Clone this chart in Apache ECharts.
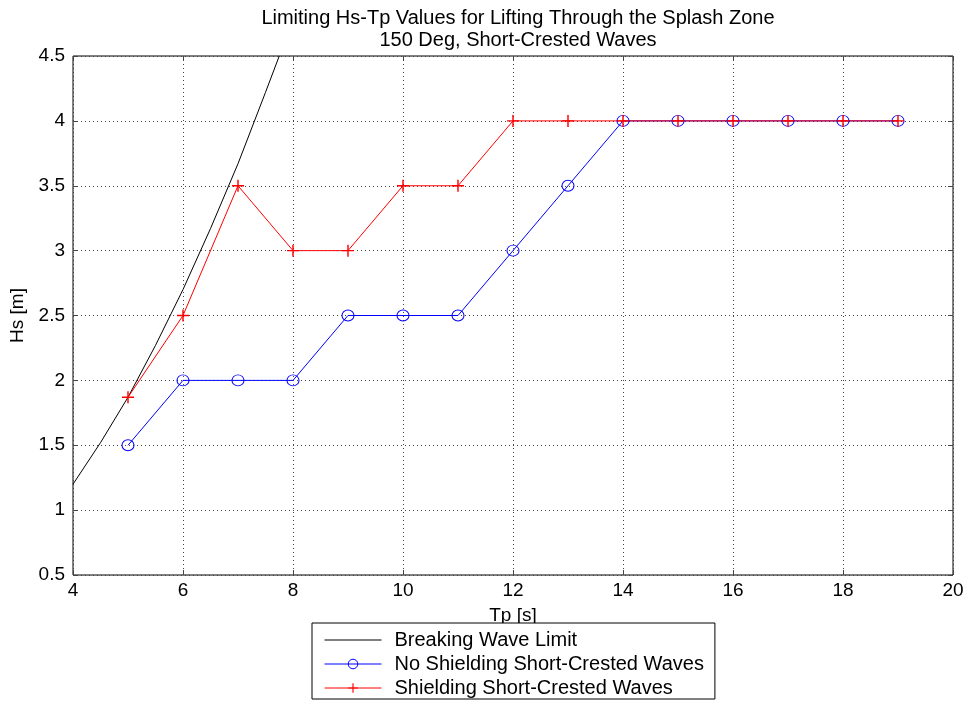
<!DOCTYPE html>
<html><head><meta charset="utf-8">
<script src="https://cdn.jsdelivr.net/npm/echarts@6/dist/echarts.min.js"></script>
<style>html,body{margin:0;padding:0;background:#fff}#c{width:968px;height:704px}</style>
</head><body><div id="c"></div>
<script>
// Breaking wave limit (Tp, Hs)
const breakTp = [4, 4.5, 5, 5.5, 6, 6.5, 7, 7.5, 7.75];
const breakHs = [1.2, 1.52, 1.87, 2.27, 2.7, 3.17, 3.67, 4.22, 4.5];
// Tp values for the two operability series
const tpValues = [5, 6, 7, 8, 9, 10, 11, 12, 13, 14, 15, 16, 17, 18, 19];
const noShieldHs = [1.5, 2, 2, 2, 2.5, 2.5, 2.5, 3, 3.5, 4, 4, 4, 4, 4, 4];
const shieldHs = [1.87, 2.5, 3.5, 3, 3, 3.5, 3.5, 4, 4, 4, 4, 4, 4, 4, 4];
const xTicks = {min: 4, max: 20, interval: 2};
const yTicks = {min: 0.5, max: 4.5, interval: 0.5};
const titleLines = ['Limiting Hs-Tp Values for Lifting Through the Splash Zone', '150 Deg, Short-Crested Waves'];
const seriesNames = ['Breaking Wave Limit', 'No Shielding Short-Crested Waves', 'Shielding Short-Crested Waves'];

const font = 'Liberation Sans, Arial, sans-serif';
const zip = (a, b) => a.map((v, i) => [v, b[i]]);
const plus = 'path://M4.4,0H5.6V4.4H10V5.6H5.6V10H4.4V5.6H0V4.4H4.4Z';

const chart = echarts.init(document.getElementById('c'));
const grid = {left: 73, top: 56, right: 15, bottom: 129, show: true, borderColor: '#000', borderWidth: 1, backgroundColor: 'transparent'};
const tickStyle = {show: true, inside: true, length: 5, lineStyle: {color: '#444'}};
const gridLine = {show: true, lineStyle: {color: '#444', type: [1, 3], width: 1}};
chart.setOption({
  backgroundColor: '#fff',
  animation: false,
  title: {
    text: titleLines.join('\n'), left: 513, top: 2, textAlign: 'center',
    textStyle: {fontFamily: font, fontSize: 20, fontWeight: 'normal', color: '#000', lineHeight: 22}
  },
  grid: grid,
  xAxis: [{
    type: 'value', min: xTicks.min, max: xTicks.max, interval: xTicks.interval,
    name: 'Tp [s]', nameLocation: 'middle', nameGap: 31,
    nameTextStyle: {fontFamily: font, fontSize: 19, color: '#000'},
    axisLine: {show: false}, axisTick: tickStyle,
    axisLabel: {fontFamily: font, fontSize: 19, color: '#000', margin: 6},
    splitLine: gridLine
  }, {
    type: 'value', position: 'top', min: xTicks.min, max: xTicks.max, interval: xTicks.interval,
    axisLine: {show: false}, axisTick: tickStyle, axisLabel: {show: false}, splitLine: {show: false}
  }],
  yAxis: [{
    type: 'value', min: yTicks.min, max: yTicks.max, interval: yTicks.interval,
    name: 'Hs [m]', nameLocation: 'middle', nameGap: 44, nameRotate: 90,
    nameTextStyle: {fontFamily: font, fontSize: 19, color: '#000'},
    axisLine: {show: false}, axisTick: tickStyle,
    axisLabel: {fontFamily: font, fontSize: 19, color: '#000', margin: 8},
    splitLine: gridLine
  }, {
    type: 'value', position: 'right', min: yTicks.min, max: yTicks.max, interval: yTicks.interval,
    axisLine: {show: false}, axisTick: tickStyle, axisLabel: {show: false}, splitLine: {show: false}
  }],
  legend: {
    orient: 'vertical', left: 312, top: 623,
    backgroundColor: '#fff', borderColor: '#000', borderWidth: 1,
    padding: [6, 11, 0, 12], itemWidth: 57, itemHeight: 12, itemGap: 2,
    lineStyle: {width: 1},
    itemStyle: {borderWidth: 1},
    textStyle: {fontFamily: font, fontSize: 20, color: '#000', lineHeight: 22, padding: [0, 0, 0, 8]},
    data: [
      {name: seriesNames[0], icon: 'path://M0,0H57V1H0Z'},
      {name: seriesNames[1]},
      {name: seriesNames[2]}
    ]
  },
  series: [{
    name: seriesNames[0], type: 'line', data: zip(breakTp, breakHs),
    showSymbol: false, symbol: 'none', smooth: false, clip: true,
    lineStyle: {color: '#000', width: 1}, itemStyle: {color: '#000'}
  }, {
    name: seriesNames[1], type: 'line', data: zip(tpValues, noShieldHs),
    symbol: 'circle', symbolSize: [12, 11],
    lineStyle: {color: '#0000ff', width: 1},
    itemStyle: {color: 'rgba(255,255,255,0)', borderColor: '#0000ff', borderWidth: 1}
  }, {
    name: seriesNames[2], type: 'line', data: zip(tpValues, shieldHs),
    symbol: plus, symbolSize: 12,
    lineStyle: {color: '#ff0000', width: 1},
    itemStyle: {color: '#ff0000', borderWidth: 0}
  }]
});
</script></body></html>
